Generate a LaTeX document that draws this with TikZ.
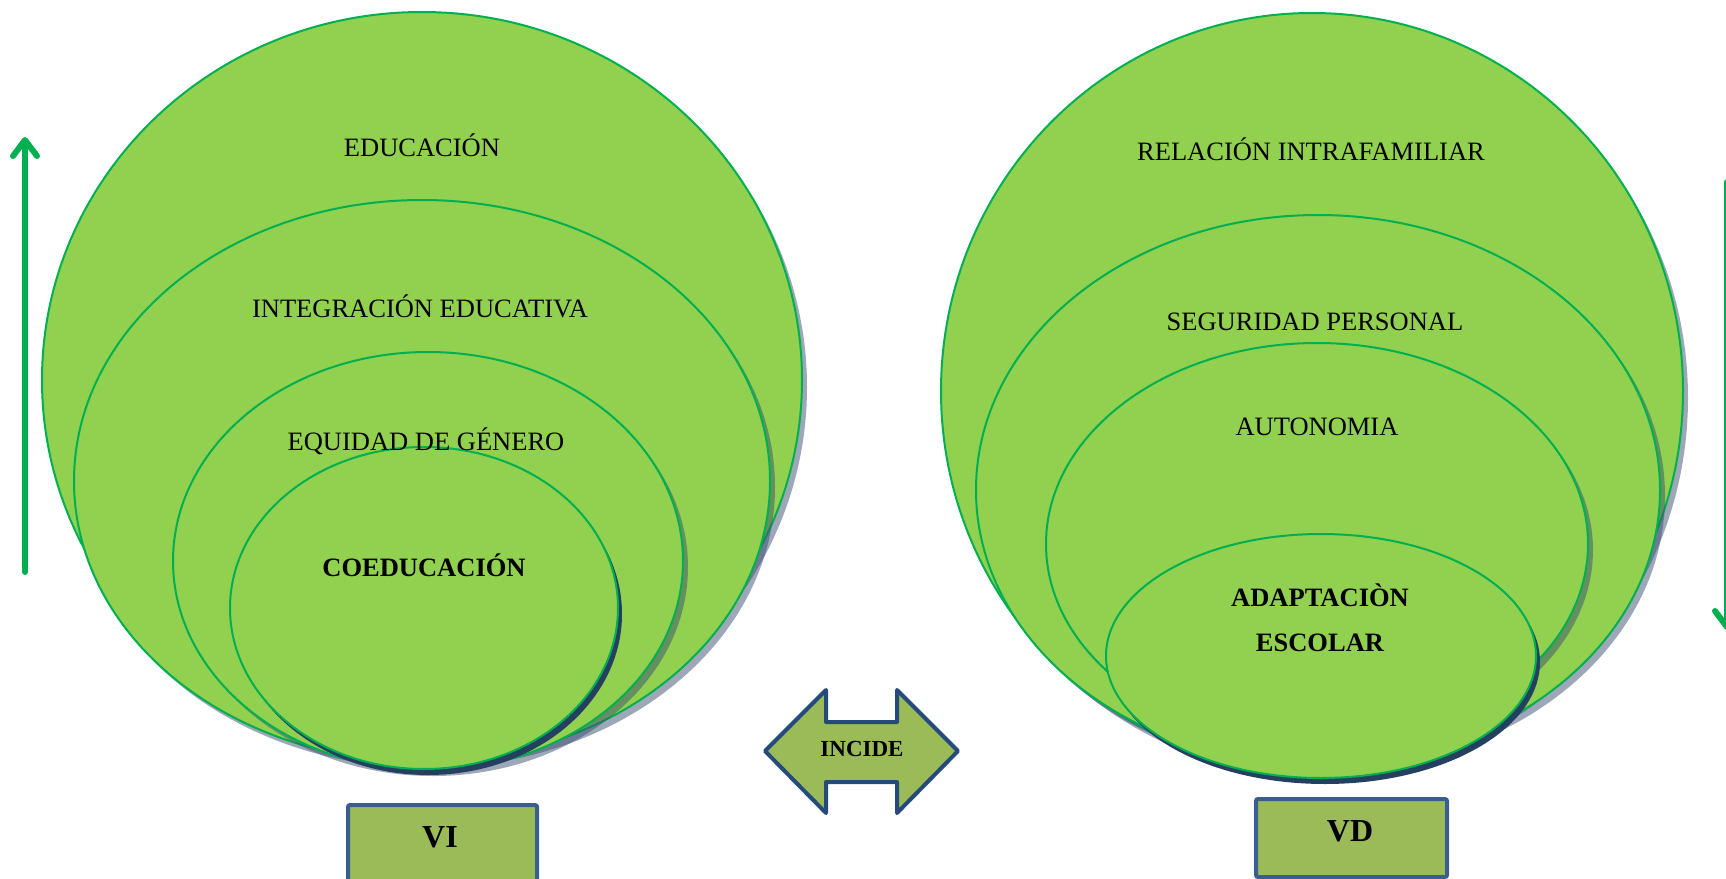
\documentclass[tikz,border=0pt]{standalone}
\usepackage{fontspec}
\setmainfont{Liberation Serif}
\usetikzlibrary{arrows.meta}
\definecolor{lgreen}{HTML}{92D050}
\definecolor{egreen}{HTML}{00B050}
\definecolor{shadowc}{HTML}{3C4F72}
\definecolor{navy}{HTML}{243F60}
\definecolor{boxfill}{HTML}{9BBB59}
\definecolor{boxline}{HTML}{3A5F8E}
\definecolor{arrline}{HTML}{254A7C}
\begin{document}
\begin{tikzpicture}[x=0.5pt,y=-0.5pt,
  ell/.style={fill=lgreen,draw=egreen,line width=1pt},
  lshadow/.style={fill=shadowc,fill opacity=0.5},
  dshadow/.style={fill=navy},
  lbl/.style={inner sep=0pt,font=\fontsize{13.25}{16}\selectfont},
  blbl/.style={inner sep=0pt,font=\fontsize{13.25}{16}\selectfont\bfseries},
  varbox/.style={draw=boxline,fill=boxfill,line width=2pt,rounded corners=1pt,inner sep=0pt},
  varlbl/.style={inner sep=0pt,font=\fontsize{16}{19}\selectfont\bfseries},
  bigarrow/.style={draw=arrline,fill=boxfill,line width=2pt,line join=round},
  trend/.style={draw=egreen,line width=3pt,line cap=round,
    -{Straight Barb[length=8pt,width=12pt,line cap=round,line join=round]}},
  ]
\useasboundingbox (0,0) rectangle (1726,879);
\clip (0,0) rectangle (1726,879);

% ---- left group (VI)
\fill[lshadow] (427,387) ellipse [x radius=380,y radius=368];
\draw[ell] (422,380) ellipse [x radius=380,y radius=368];
\fill[lshadow] (427,487) ellipse [x radius=348,y radius=281];
\draw[ell] (422,481) ellipse [x radius=348,y radius=281];
\fill[lshadow] (433,567) ellipse [x radius=255,y radius=209];
\draw[ell] (428,561) ellipse [x radius=255,y radius=209];
\fill[dshadow] (428,614) ellipse [x radius=194,y radius=161];
\draw[ell] (424,608) ellipse [x radius=194,y radius=161];

\node[lbl] (educ) at (422,145) {EDUCACIÓN};
\node[lbl] (integ) at (420,306) {INTEGRACIÓN EDUCATIVA};
\node[lbl] (equid) at (426,441) {EQUIDAD DE GÉNERO};
\node[blbl] (coed) at (424,565) {COEDUCACIÓN};

% ---- right group (VD)
\fill[lshadow] (1317,398) ellipse [x radius=371,y radius=378];
\draw[ell] (1312,391) ellipse [x radius=371,y radius=378];
\fill[lshadow] (1323,496) ellipse [x radius=342,y radius=275];
\draw[ell] (1318,490) ellipse [x radius=342,y radius=275];
\fill[lshadow] (1322,550) ellipse [x radius=271,y radius=201];
\draw[ell] (1317,544) ellipse [x radius=271,y radius=201];
\fill[dshadow] (1325,662) ellipse [x radius=215,y radius=122];
\draw[ell] (1321,656) ellipse [x radius=215,y radius=122];

\node[lbl] (relac) at (1311,149) {RELACIÓN INTRAFAMILIAR};
\node[lbl] (segur) at (1315,322) {SEGURIDAD PERSONAL};
\node[lbl] (auton) at (1317,427) {AUTONOMIA};
\node[blbl] (adapt) at (1320,595) {ADAPTACIÒN};
\node[blbl] (escol) at (1320,643) {ESCOLAR};

% ---- variable boxes
\node[varbox,anchor=north west,minimum width=94.5pt,minimum height=48pt] (vibox) at (346,803) {};
\node[varlbl] (vi) at (440,837) {VI};
\node[varbox,anchor=north west,minimum width=95.5pt,minimum height=39pt] (vdbox) at (1254,797) {};
\node[varlbl] (vd) at (1350,831) {VD};

% ---- INCIDE double arrow
\draw[bigarrow] (765,751) -- (826,690) -- (826,722) -- (897,722) -- (897,690)
  -- (958,751) -- (897,813) -- (897,782) -- (826,782) -- (826,813) -- cycle;
\node[inner sep=0pt,font=\fontsize{11.5}{14}\selectfont\bfseries] (incide) at (862,749) {INCIDE};

% ---- trend arrows
\coordinate (lbot) at (25,572);
\coordinate (ltop) at (25,137);
\draw[trend] (lbot) -- (ltop);
\coordinate (rtop) at (1727,182);
\coordinate (rbot) at (1727,630);
\draw[trend] (rtop) -- (rbot);
\end{tikzpicture}
\end{document}
